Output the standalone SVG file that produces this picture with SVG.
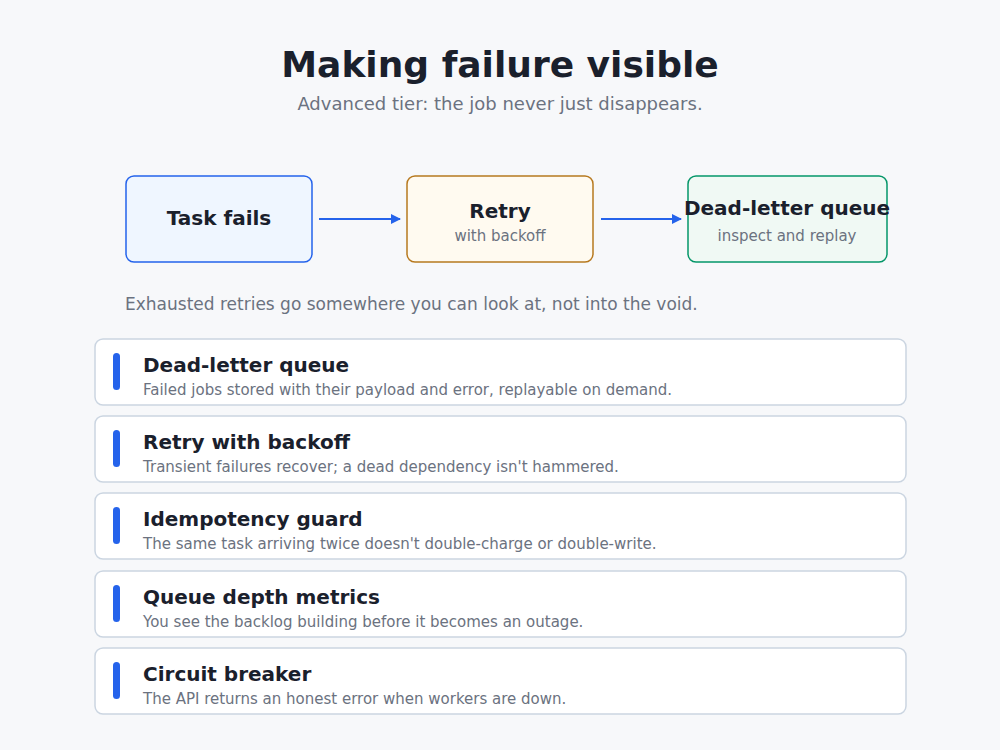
<svg xmlns="http://www.w3.org/2000/svg" width="1000" height="750" viewBox="0 0 1000 750">
<style>
text{font-family:"DejaVu Sans",sans-serif}
.t{font-size:20px;font-weight:bold;fill:#1a202c}
.d{font-size:15px;fill:#6b7280}
.card{fill:#fff;stroke:#cbd5e1;stroke-width:1.5}
.bar{fill:#2563eb}
.c{stroke:#2563eb;stroke-width:2;fill:none}
</style>
<defs><marker id="a" markerWidth="10" markerHeight="10" refX="9" refY="5" orient="auto" markerUnits="userSpaceOnUse"><path d="M0,0 L10,5 L0,10 z" fill="#2563eb"/></marker></defs>
<rect width="1000" height="750" fill="#f7f8fa"/>
<text x="500" y="77" text-anchor="middle" font-size="36" font-weight="bold" fill="#1a202c">Making failure visible</text>
<text x="500" y="110" text-anchor="middle" font-size="18" fill="#6b7280">Advanced tier: the job never just disappears.</text>
<g id="n1"><rect x="126" y="176" width="186" height="86" rx="8" fill="#eff6ff" stroke="#2563eb" stroke-width="1.5"/><text x="219" y="225" text-anchor="middle" class="t">Task fails</text></g>
<g id="n2"><rect x="407" y="176" width="186" height="86" rx="8" fill="#fffaf0" stroke="#b7791f" stroke-width="1.5"/><text x="500" y="218" text-anchor="middle" class="t">Retry</text><text x="500" y="241" text-anchor="middle" class="d" font-size="14">with backoff</text></g>
<g id="n3"><rect x="688" y="176" width="199" height="86" rx="8" fill="#f0f9f4" stroke="#059669" stroke-width="1.5"/><text x="787" y="215" text-anchor="middle" class="t" font-size="17">Dead-letter queue</text><text x="787" y="241" text-anchor="middle" class="d" font-size="14">inspect and replay</text></g>
<g id="connectors"><line class="c" x1="319" y1="219" x2="400" y2="219" marker-end="url(#a)"/><line class="c" x1="601" y1="219" x2="681" y2="219" marker-end="url(#a)"/></g>
<text x="125" y="310" font-size="17" fill="#6b7280">Exhausted retries go somewhere you can look at, not into the void.</text>
<g id="c1"><rect class="card" x="95" y="339" width="811" height="66" rx="8"/><rect class="bar" x="113" y="353" width="7" height="37" rx="3.5"/><text x="143" y="372" class="t">Dead-letter queue</text><text x="143" y="395" class="d">Failed jobs stored with their payload and error, replayable on demand.</text></g>
<g id="c2"><rect class="card" x="95" y="416" width="811" height="66" rx="8"/><rect class="bar" x="113" y="430" width="7" height="37" rx="3.5"/><text x="143" y="449" class="t">Retry with backoff</text><text x="143" y="472" class="d">Transient failures recover; a dead dependency isn't hammered.</text></g>
<g id="c3"><rect class="card" x="95" y="493" width="811" height="66" rx="8"/><rect class="bar" x="113" y="507" width="7" height="37" rx="3.5"/><text x="143" y="526" class="t">Idempotency guard</text><text x="143" y="549" class="d">The same task arriving twice doesn't double-charge or double-write.</text></g>
<g id="c4"><rect class="card" x="95" y="571" width="811" height="66" rx="8"/><rect class="bar" x="113" y="585" width="7" height="37" rx="3.5"/><text x="143" y="604" class="t">Queue depth metrics</text><text x="143" y="627" class="d">You see the backlog building before it becomes an outage.</text></g>
<g id="c5"><rect class="card" x="95" y="648" width="811" height="66" rx="8"/><rect class="bar" x="113" y="662" width="7" height="37" rx="3.5"/><text x="143" y="681" class="t">Circuit breaker</text><text x="143" y="704" class="d">The API returns an honest error when workers are down.</text></g>
</svg>
